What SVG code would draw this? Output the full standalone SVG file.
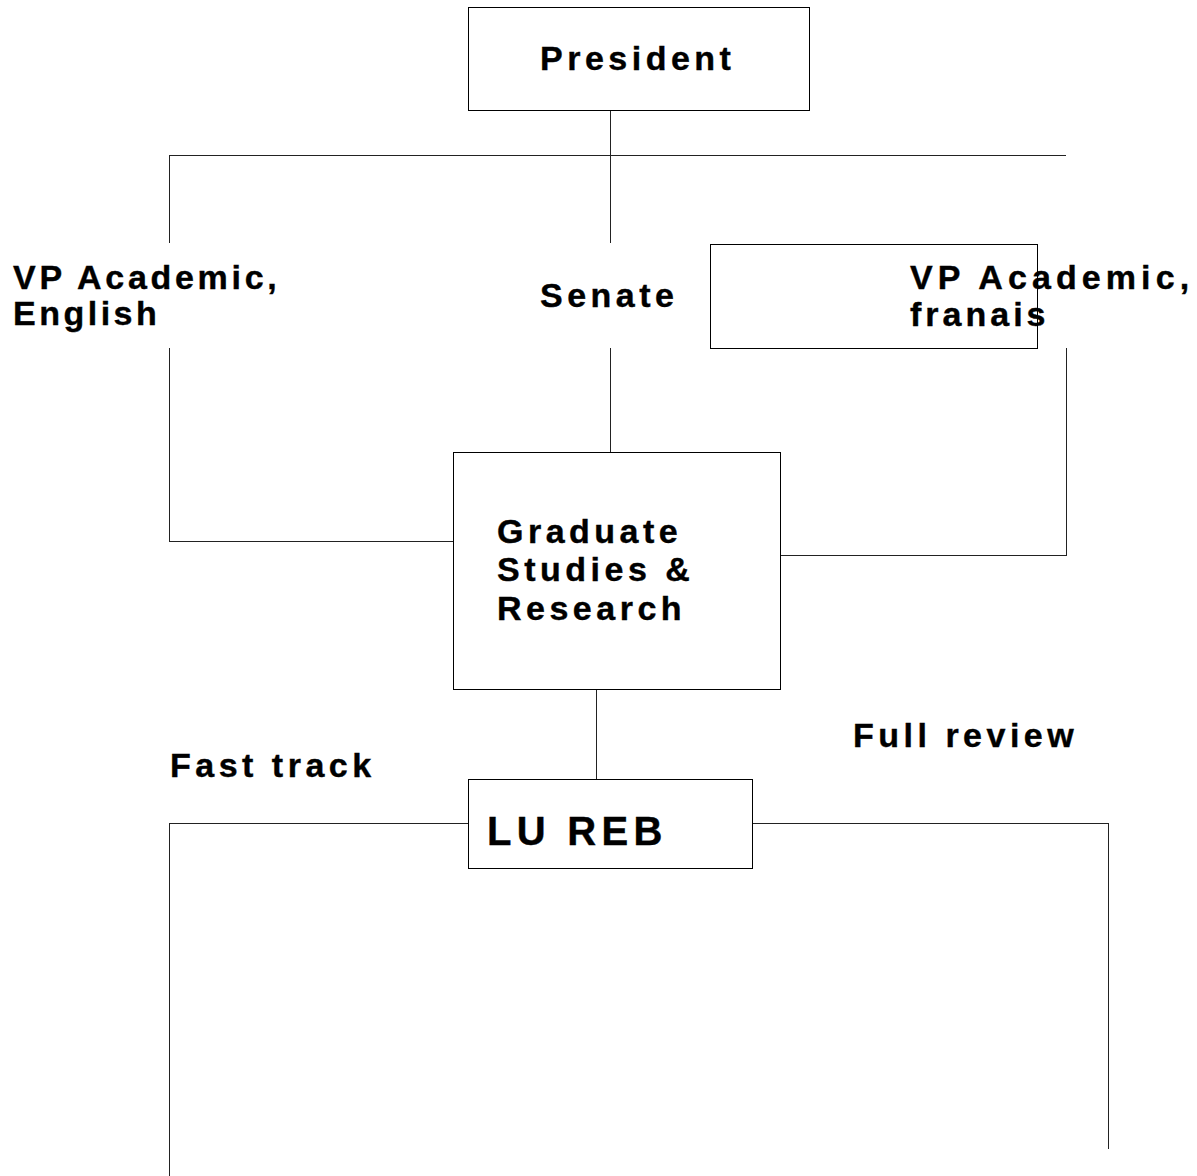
<svg xmlns="http://www.w3.org/2000/svg" width="1197" height="1176" viewBox="0 0 1197 1176">
<style>
.box{fill:#fff;stroke:#000;stroke-width:1}
.t{font-family:"Liberation Sans",Arial,sans-serif;font-weight:bold;font-size:34px;letter-spacing:4.5px;fill:#000;stroke:#000;stroke-width:0.4}
.big{font-size:40px;letter-spacing:5.3px}
.c line{stroke:#222;stroke-width:1}
</style>
<rect width="1197" height="1176" fill="#fff"/>
<g class="c" id="connectors">
<line x1="610.5" y1="110" x2="610.5" y2="243"/>
<line x1="169" y1="155.5" x2="1066" y2="155.5"/>
<line x1="169.5" y1="155" x2="169.5" y2="243"/>
<line x1="169.5" y1="348" x2="169.5" y2="541.5"/>
<line x1="169" y1="541.5" x2="453" y2="541.5"/>
<line x1="610.5" y1="348" x2="610.5" y2="452"/>
<line x1="1066.5" y1="348" x2="1066.5" y2="555.5"/>
<line x1="781" y1="555.5" x2="1067" y2="555.5"/>
<line x1="596.5" y1="689" x2="596.5" y2="779"/>
<line x1="169" y1="823.5" x2="468" y2="823.5"/>
<line x1="169.5" y1="823" x2="169.5" y2="1176"/>
<line x1="752" y1="823.5" x2="1109" y2="823.5"/>
<line x1="1108.5" y1="823" x2="1108.5" y2="1149"/>
</g>
<g id="president">
<rect class="box" x="468.5" y="7.5" width="341" height="103"/>
<text class="t" x="540" y="70">President</text>
</g>
<g id="vp-english">
<text class="t" x="13" y="289" style="letter-spacing:3.7px">VP Academic,</text>
<text class="t" x="13" y="325" style="letter-spacing:3.5px">English</text>
</g>
<g id="senate">
<text class="t" x="540" y="307">Senate</text>
</g>
<g id="vp-francais">
<rect class="box" x="710.5" y="244.5" width="327" height="104"/>
<text class="t" x="910" y="289" style="letter-spacing:5.1px">VP Academic,</text>
<text class="t" x="910" y="326" style="letter-spacing:4px">franais</text>
</g>
<g id="graduate">
<rect class="box" x="453.5" y="452.5" width="327" height="237"/>
<text class="t" x="497" y="543">Graduate</text>
<text class="t" x="497" y="581">Studies &amp;</text>
<text class="t" x="497" y="620">Research</text>
</g>
<g id="fast-track">
<text class="t" x="170" y="777">Fast track</text>
</g>
<g id="full-review">
<text class="t" x="853" y="747">Full review</text>
</g>
<g id="lu-reb">
<rect class="box" x="468.5" y="779.5" width="284" height="89"/>
<text class="t big" x="487" y="845">LU REB</text>
</g>
</svg>
